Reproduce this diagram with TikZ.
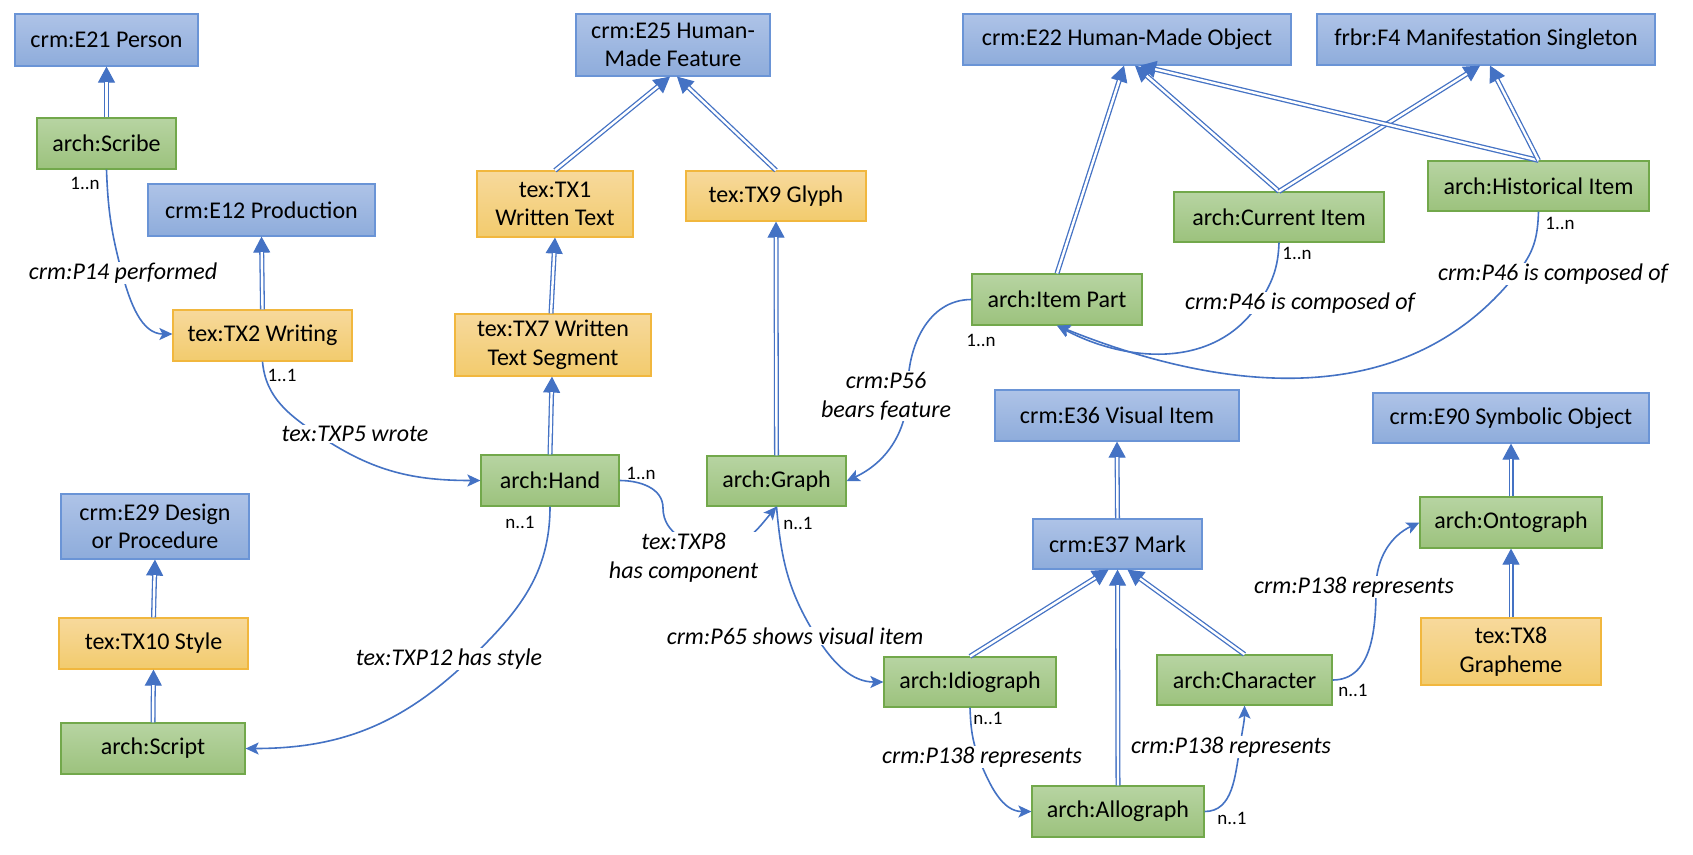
\documentclass[tikz,border=0pt]{standalone}
\usepackage{fontspec}
\setmainfont{Carlito}
\usetikzlibrary{arrows.meta,calc}
\definecolor{arrc}{HTML}{4472C4}
\definecolor{bluetop}{HTML}{AEC3E7}
\definecolor{bluebot}{HTML}{8EACDB}
\definecolor{bluebd}{HTML}{6A94D6}
\definecolor{greentop}{HTML}{B7D4A2}
\definecolor{greenbot}{HTML}{9CC27D}
\definecolor{greenbd}{HTML}{72A84B}
\definecolor{goldtop}{HTML}{F7D99C}
\definecolor{goldbot}{HTML}{F2CB6D}
\definecolor{goldbd}{HTML}{F1B73E}
\tikzset{
  cbox/.style={rectangle, line width=1.2pt, inner sep=0pt, align=center,
    font=\fontsize{24}{28.5}\selectfont},
  bluebox/.style={cbox, draw=bluebd, top color=bluetop, bottom color=bluebot},
  greenbox/.style={cbox, draw=greenbd, top color=greentop, bottom color=greenbot},
  goldbox/.style={cbox, draw=goldbd, top color=goldtop, bottom color=goldbot},
  subtip/.style={draw=arrc, line width=1pt, -{Triangle[length=16pt,width=17pt]}},
  subline/.style={draw=arrc, line width=1.3pt, double=white, double distance=2.4pt},
  assoc/.style={draw=arrc, line width=1.6pt, -{Stealth[length=13pt,width=12pt,inset=3pt]}},
  elabel/.style={fill=white, inner sep=1pt, align=center,
    font=\fontsize{24}{29}\selectfont\itshape},
  card/.style={inner sep=0pt, font=\fontsize{19}{22}\selectfont},
}
\newcommand{\subarr}[2]{\draw[subtip] #1 -- #2; \draw[subline] #1 -- ($#2!15.5pt!#1$);}
\begin{document}
\begin{tikzpicture}[x=1pt,y=-1pt]
\fill[white] (0,0) rectangle (1693,854);
\useasboundingbox (0,0) rectangle (1693,854);

% ---- boxes ----
\node[bluebox, minimum width=183pt, minimum height=52pt] (e21) at (106.5,40) {crm:E21 Person};
\node[greenbox, minimum width=139pt, minimum height=51pt] (scribe) at (106.5,143.5) {arch:Scribe};
\node[bluebox, minimum width=227pt, minimum height=52pt] (e12) at (261.5,210) {crm:E12 Production};
\node[goldbox, minimum width=179pt, minimum height=51pt] (tx2) at (262.5,335.5) {tex:TX2 Writing};
\node[bluebox, minimum width=188pt, minimum height=65pt] (e29) at (155,526.5) {crm:E29 Design\\or Procedure};
\node[goldbox, minimum width=189pt, minimum height=51pt] (tx10) at (153.5,643.5) {tex:TX10 Style};
\node[greenbox, minimum width=184pt, minimum height=51pt] (script) at (153,748.5) {arch:Script};

\node[bluebox, minimum width=194pt, minimum height=62pt] (e25) at (673,45) {crm:E25 Human-\\Made Feature};
\node[goldbox, minimum width=156pt, minimum height=66pt] (tx1) at (555,204) {tex:TX1\\Written Text};
\node[goldbox, minimum width=180pt, minimum height=50pt] (tx9) at (776,196) {tex:TX9 Glyph};
\node[goldbox, minimum width=196pt, minimum height=62pt] (tx7) at (553,345) {tex:TX7 Written\\Text Segment};
\node[greenbox, minimum width=138pt, minimum height=51pt] (hand) at (550,480.5) {arch:Hand};
\node[greenbox, minimum width=139pt, minimum height=50pt] (graph) at (776.5,481) {arch:Graph};

\node[bluebox, minimum width=328pt, minimum height=51pt] (e22) at (1127,39.5) {crm:E22 Human-Made Object};
\node[bluebox, minimum width=338pt, minimum height=51pt] (f4) at (1486,39.5) {frbr:F4 Manifestation Singleton};
\node[greenbox, minimum width=221pt, minimum height=50pt] (hist) at (1538.5,186) {arch:Historical Item};
\node[greenbox, minimum width=210pt, minimum height=50pt] (curr) at (1279,217) {arch:Current Item};
\node[greenbox, minimum width=170pt, minimum height=51pt] (part) at (1057,299.5) {arch:Item Part};
\node[bluebox, minimum width=244pt, minimum height=51pt] (e36) at (1117,415.5) {crm:E36 Visual Item};
\node[bluebox, minimum width=276pt, minimum height=50pt] (e90) at (1511,418) {crm:E90 Symbolic Object};
\node[bluebox, minimum width=169pt, minimum height=50pt] (e37) at (1117.5,544) {crm:E37 Mark};
\node[greenbox, minimum width=182pt, minimum height=51pt] (onto) at (1511,522.5) {arch:Ontograph};
\node[greenbox, minimum width=172pt, minimum height=50pt] (idio) at (970,682) {arch:Idiograph};
\node[greenbox, minimum width=175pt, minimum height=50pt] (char) at (1244.5,680) {arch:Character};
\node[goldbox, minimum width=180pt, minimum height=67pt] (tx8) at (1511,651.5) {tex:TX8\\Grapheme};
\node[greenbox, minimum width=172pt, minimum height=51pt] (allo) at (1118,811.5) {arch:Allograph};

% ---- subclass arrows ----
\subarr{(scribe.north)}{(e21.south)}
\subarr{(tx2.north)}{(e12.south)}
\subarr{(tx10.north)}{(e29.south)}
\subarr{(script.north)}{(tx10.south)}
\subarr{(tx1.north)}{([xshift=-3pt]e25.south)}
\subarr{(tx9.north)}{([xshift=4pt]e25.south)}
\subarr{([xshift=-2pt]tx7.north)}{(tx1.south)}
\subarr{(hand.north)}{([xshift=-1pt]tx7.south)}
\subarr{(graph.north)}{(tx9.south)}
\subarr{(part.north)}{([xshift=-3pt]e22.south)}
\subarr{(curr.north)}{([xshift=8pt]e22.south)}
\subarr{(curr.north)}{([xshift=-6pt]f4.south)}
\subarr{(hist.north)}{([xshift=13pt]e22.south)}
\subarr{(hist.north)}{([xshift=4pt]f4.south)}
\subarr{(e37.north)}{(e36.south)}
\subarr{(idio.north)}{([xshift=-9pt]e37.south)}
\subarr{(allo.north)}{(e37.south)}
\subarr{(char.north)}{([xshift=10pt]e37.south)}
\subarr{(onto.north)}{(e90.south)}
\subarr{(tx8.north)}{(onto.south)}

% ---- association connectors ----
\coordinate (w14) at (122,273);
\draw[assoc] (scribe.south) to[out=-88,in=105] (w14) to[out=-75,in=180] ([yshift=1.5pt]tx2.west);
\coordinate (w5) at (320,436);
\draw[assoc] (tx2.south) to[out=-85,in=146] (w5) to[out=-34,in=180] (hand.west);
\coordinate (w12) at (470,659);
\draw[assoc] (hand.south) to[out=-90,in=44] (w12) to[out=-136,in=0] (script.east);
\coordinate (w8a) at (663,508);
\coordinate (w8b) at (718,547);
\draw[assoc] (hand.east) to[out=0,in=90] (w8a) to[out=-90,in=180] (w8b) to[out=0,in=-130] (graph.south);
\coordinate (w65) at (816,636);
\draw[assoc] (graph.south) to[out=-85,in=122] (w65) to[out=-58,in=180] (idio.west);
\coordinate (w56) at (908,392);
\draw[assoc] (part.west) to[out=180,in=92] (w56) to[out=-92,in=25] (graph.east);
\coordinate (w46a) at (1259,303);
\draw[assoc] (curr.south) to[out=-92,in=57] (w46a) to[out=-123,in=-28] (part.south);
\coordinate (w46b) at (1521,268);
\draw[assoc] (hist.south) to[out=-92,in=53] (w46b) to[out=-127,in=-22] (part.south);
\coordinate (w138a) at (979,759);
\draw[assoc] (idio.south) to[out=-88,in=110] (w138a) to[out=-68,in=180] (allo.west);
\coordinate (w138b) at (1240,747);
\draw[assoc] (allo.east) to[out=0,in=-100] (w138b) to[out=83,in=-90] (char.south);
\coordinate (w138c) at (1376,588);
\draw[assoc] (char.east) to[out=0,in=-90] (w138c) to[out=90,in=-155] (onto.west);

% ---- connector labels ----
\node[elabel] (l14) at (123,273) {crm:P14 performed};
\node[elabel] (l5) at (355,434) {tex:TXP5 wrote};
\node[elabel] (l12) at (449,659) {tex:TXP12 has style};
\node[elabel] (l8) at (683.5,558) {tex:TXP8\\has component};
\node[elabel] (l65) at (795,636) {crm:P65 shows visual item};
\node[elabel] (l56) at (886,396) {crm:P56\\bears feature};
\node[elabel] (l46a) at (1300,303) {crm:P46 is composed of};
\node[elabel] (l46b) at (1553,274) {crm:P46 is composed of};
\node[elabel] (l138a) at (982,757) {crm:P138 represents};
\node[elabel] (l138b) at (1231,747) {crm:P138 represents};
\node[elabel] (l138c) at (1354,587) {crm:P138 represents};

% ---- cardinalities ----
\node[card] (c1) at (85,183) {1..n};
\node[card] (c2) at (282,375) {1..1};
\node[card] (c3) at (520,522) {n..1};
\node[card] (c4) at (641,473) {1..n};
\node[card] (c5) at (798,523) {n..1};
\node[card] (c6) at (981,340) {1..n};
\node[card] (c7) at (1297,253) {1..n};
\node[card] (c8) at (1560,223) {1..n};
\node[card] (c9) at (988,718) {n..1};
\node[card] (c10) at (1232,818) {n..1};
\node[card] (c11) at (1353,690) {n..1};
\end{tikzpicture}
\end{document}
